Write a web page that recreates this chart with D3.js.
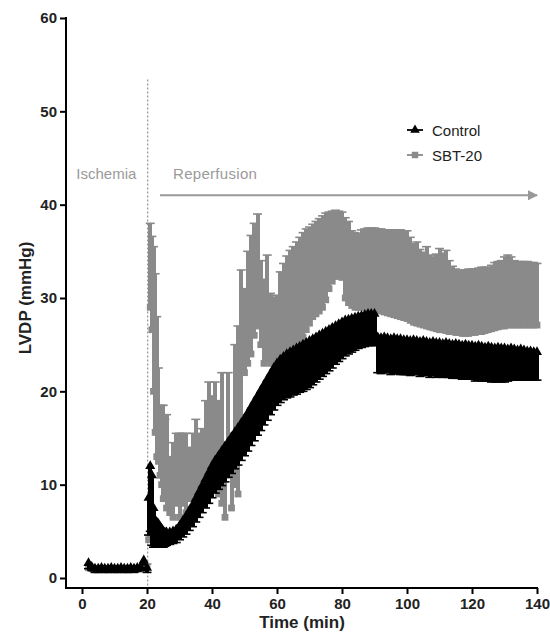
<!DOCTYPE html>
<html>
<head>
<meta charset="utf-8">
<script src="https://cdn.jsdelivr.net/npm/d3@7"></script>
<style>
  body { margin: 0; background: #fff; }
  text { font-family: Arial, "Liberation Sans", sans-serif; }
</style>
</head>
<body>
<div id="chart"></div>
<script>
// time points (min)
const time = [
  2, 3, 4, 5, 6, 7, 8, 9, 10, 11, 12, 13, 14, 15, 16, 17, 18, 19, 20,
  20.5, 21, 21.5, 22, 22.5, 23, 23.5, 24, 24.5, 25, 25.5, 26,
  27, 28, 29, 30,
  31, 32, 33, 34, 35, 36, 37, 38, 39, 40,
  41, 42, 43, 44, 45, 46, 47, 48, 49, 50,
  51, 52, 53, 54, 55, 56, 57, 58, 59, 60,
  61, 62, 63, 64, 65, 66, 67, 68, 69, 70,
  71, 72, 73, 74, 75, 76, 77, 78, 79, 80,
  81, 82, 83, 84, 85, 86, 87, 88, 89, 90,
  91, 92, 93, 94, 95, 96, 97, 98, 99, 100,
  101, 102, 103, 104, 105, 106, 107, 108, 109, 110,
  111, 112, 113, 114, 115, 116, 117, 118, 119, 120,
  121, 122, 123, 124, 125, 126, 127, 128, 129, 130,
  131, 132, 133, 134, 135, 136, 137, 138, 139, 140
];

// Control: mean LVDP and SEM (bars drawn below)
const controlMean = [
  1.6, 1.2, 1.0, 1.0, 1.1, 1.0, 1.0, 1.1, 1.0, 1.0, 1.1, 1.0, 1.0, 1.1, 1.0, 1.1, 1.2, 1.9, 1.1,
  8.6, 12.0, 11.0, 7.5, 6.2, 6.0, 5.8, 5.5, 5.3, 5.0, 4.9, 4.9,
  4.9, 5.0, 5.2, 5.6,
  6.1, 6.6, 7.2, 7.8, 8.5, 9.2, 9.9, 10.6, 11.3, 12.0,
  12.6, 13.1, 13.6, 14.1, 14.6, 15.1, 15.6, 16.1, 16.6, 17.1,
  17.7, 18.3, 18.9, 19.5, 20.1, 20.7, 21.3, 21.9, 22.5, 23.0,
  23.4, 23.7, 24.0, 24.2, 24.4, 24.6, 24.8, 25.0, 25.2, 25.4,
  25.6, 25.8, 26.0, 26.2, 26.4, 26.6, 26.8, 27.0, 27.2, 27.4,
  27.6, 27.7, 27.8, 27.9, 28.0, 28.1, 28.2, 28.3, 28.3, 28.3,
  25.8, 25.7, 25.8, 25.7, 25.6, 25.7, 25.6, 25.6, 25.5, 25.5,
  25.4, 25.5, 25.4, 25.3, 25.4, 25.3, 25.2, 25.3, 25.2, 25.2,
  25.1, 25.2, 25.1, 25.0, 25.1, 25.0, 24.9, 25.0, 24.9, 24.9,
  24.8, 24.9, 24.8, 24.7, 24.8, 24.7, 24.6, 24.7, 24.6, 24.6,
  24.5, 24.6, 24.5, 24.4, 24.5, 24.4, 24.3, 24.3, 24.2, 24.2
];
const controlSem = [
  0.6, 0.4, 0.4, 0.4, 0.4, 0.4, 0.4, 0.4, 0.4, 0.4, 0.4, 0.4, 0.4, 0.4, 0.4, 0.4, 0.4, 0.5, 0.5,
  4.0, 7.0, 7.5, 4.2, 2.8, 2.7, 2.5, 2.2, 2.0, 1.7, 1.5, 1.4,
  1.3, 1.3, 1.4, 1.5,
  1.7, 1.9, 2.1, 2.3, 2.5, 2.7, 2.9, 3.1, 3.3, 3.4,
  3.5, 3.6, 3.7, 3.8, 3.8, 3.9, 3.9, 4.0, 4.0, 4.0,
  4.1, 4.1, 4.2, 4.2, 4.3, 4.3, 4.4, 4.4, 4.5, 4.5,
  4.6, 4.6, 4.7, 4.8, 4.8, 4.9, 4.9, 5.0, 5.0, 5.0,
  4.9, 4.8, 4.7, 4.6, 4.5, 4.4, 4.3, 4.1, 4.0, 3.9,
  3.8, 3.7, 3.6, 3.5, 3.4, 3.4, 3.4, 3.4, 3.4, 3.4,
  3.8, 3.8, 3.8, 3.7, 3.8, 3.8, 3.7, 3.8, 3.7, 3.7,
  3.7, 3.7, 3.6, 3.7, 3.7, 3.6, 3.7, 3.6, 3.7, 3.6,
  3.6, 3.7, 3.6, 3.6, 3.7, 3.6, 3.6, 3.6, 3.6, 3.6,
  3.7, 3.7, 3.7, 3.6, 3.7, 3.7, 3.6, 3.7, 3.6, 3.6,
  3.4, 3.3, 3.3, 3.2, 3.3, 3.2, 3.1, 3.1, 3.0, 3.0
];

// SBT-20: mean LVDP and SEM (bars drawn above)
const sbtMean = [
  1.1, 1.0, 0.9, 1.0, 1.0, 0.9, 1.0, 1.0, 0.9, 1.0, 1.0, 0.9, 1.0, 1.0, 0.9, 1.0, 1.0, 1.1, 1.2,
  4.1, 29.0, 26.6, 20.0, 15.6, 13.0, 12.5, 11.0, 10.0, 8.5, 9.0, 7.5,
  7.0, 6.5, 8.0, 6.5,
  8.0, 7.0, 8.5, 7.5, 9.0, 8.0, 9.5, 10.0, 11.0, 10.0,
  12.0, 9.0, 8.0, 6.5, 11.0, 7.5, 10.0, 9.0, 16.0, 22.0,
  23.0, 24.0, 26.0, 27.0, 25.0, 23.0, 23.5, 23.0, 23.0, 23.5,
  24.0, 24.0, 24.5, 24.5, 25.0, 25.2, 25.6, 25.8, 26.6, 27.3,
  28.0, 28.3, 28.6, 29.0, 29.8, 31.0, 31.8, 32.3, 32.4, 32.2,
  30.0, 29.5, 29.2, 29.0, 29.0, 29.0, 29.0, 29.0, 28.9, 28.9,
  28.7, 28.6, 28.5, 28.4, 28.3, 28.2, 28.1, 28.0, 27.9, 27.8,
  27.6, 27.4, 27.3, 27.2, 27.1, 27.0, 26.9, 26.8, 26.7, 26.6,
  26.6, 26.5, 26.4, 26.4, 26.3, 26.3, 26.2, 26.2, 26.2, 26.3,
  26.3, 26.4, 26.4, 26.5, 26.6, 26.7, 26.8, 26.9, 27.0, 27.0,
  27.1, 27.1, 27.1, 27.1, 27.1, 27.1, 27.1, 27.1, 27.1, 27.1
];
const sbtSem = [
  0.3, 0.3, 0.3, 0.3, 0.3, 0.3, 0.3, 0.3, 0.3, 0.3, 0.3, 0.3, 0.3, 0.3, 0.3, 0.3, 0.3, 0.3, 0.3,
  0.5, 9.0, 10.0, 15.5, 17.0, 15.0, 10.0, 7.5, 8.5, 10.0, 8.0, 10.0,
  6.0, 8.0, 7.5, 9.0,
  7.5, 8.5, 5.5, 8.0, 8.0, 7.5, 6.5, 9.0, 10.0, 9.5,
  9.0, 10.0, 14.0, 6.0, 11.0, 8.0, 15.0, 18.0, 17.0, 9.0,
  12.0, 12.7, 12.0, 12.0, 9.0, 9.0, 11.1, 7.5, 7.1, 6.8,
  8.8, 9.7, 10.0, 10.6, 10.5, 10.8, 10.9, 11.2, 10.8, 10.3,
  9.9, 9.9, 9.9, 9.8, 9.3, 8.2, 7.5, 7.1, 6.9, 7.0,
  8.6, 8.7, 8.0, 8.0, 7.9, 8.3, 8.4, 8.5, 8.6, 8.6,
  8.7, 8.8, 8.8, 8.9, 9.0, 9.1, 9.2, 9.3, 9.2, 9.4,
  8.9, 8.4, 8.7, 8.0, 7.8, 8.5, 7.7, 7.6, 8.0, 8.7,
  8.2, 8.6, 7.6, 7.0, 6.8, 6.6, 6.8, 6.8, 6.9, 6.8,
  6.8, 6.8, 6.9, 6.8, 6.7, 6.8, 7.0, 7.0, 7.0, 7.4,
  7.5, 7.3, 6.9, 6.8, 6.8, 6.8, 6.8, 6.7, 6.7, 6.6
];

const xTicks = [0, 20, 40, 60, 80, 100, 120, 140];
const yTicks = [0, 10, 20, 30, 40, 50, 60];
const seriesNames = ["Control", "SBT-20"];
const ischemiaEnd = 20.2;

const width = 550, height = 637;
const grey = "#8a8a8a", textGrey = "#9a9a9a";

const svg = d3.select("#chart").append("svg")
    .attr("width", width)
    .attr("height", height);

// scales
const x = d3.scaleLinear().domain([0, 140]).range([82, 537]);
const y = d3.scaleLinear().domain([0, 60]).range([578, 18]);
const axisX = 66, axisY = 588;

// build rows
const control = time.map((t, i) => ({t: t, m: controlMean[i], e: controlSem[i]}));
const sbt = time.map((t, i) => ({t: t, m: sbtMean[i], e: sbtSem[i]}));

// ischemia/reperfusion separator
svg.append("line")
    .attr("x1", x(ischemiaEnd)).attr("x2", x(ischemiaEnd))
    .attr("y1", y(53.4)).attr("y2", axisY)
    .attr("stroke", "#999").attr("stroke-width", 1.3)
    .attr("stroke-dasharray", "2,2");

svg.append("text")
    .attr("x", x(7.5)).attr("y", y(42.8))
    .attr("text-anchor", "middle")
    .attr("font-size", 15).attr("fill", textGrey)
    .text("Ischemia");

svg.append("text")
    .attr("x", x(28)).attr("y", y(42.8))
    .attr("font-size", 15).attr("fill", textGrey)
    .attr("letter-spacing", 0.3)
    .text("Reperfusion");

// arrow
svg.append("defs").append("marker")
    .attr("id", "arrow")
    .attr("viewBox", "0 0 10 10")
    .attr("refX", 9).attr("refY", 5)
    .attr("markerWidth", 5).attr("markerHeight", 5)
    .attr("markerUnits", "strokeWidth")
    .attr("orient", "auto")
    .append("path")
    .attr("d", "M0,0 L10,5 L0,10 Z")
    .attr("fill", "#999");

svg.append("line")
    .attr("x1", x(24)).attr("x2", x(140))
    .attr("y1", y(41)).attr("y2", y(41))
    .attr("stroke", "#999").attr("stroke-width", 2)
    .attr("marker-end", "url(#arrow)");

// draw one series with one-sided error bars
function drawSeries(data, color, symbol, size, dir) {
    const g = svg.append("g");
    const cap = 4.5;
    g.selectAll(".stem").data(data).enter().append("line")
        .attr("x1", d => x(d.t)).attr("x2", d => x(d.t))
        .attr("y1", d => y(d.m))
        .attr("y2", d => y(d.m + dir * d.e))
        .attr("stroke", color).attr("stroke-width", 4)
        .attr("shape-rendering", "crispEdges");
    g.selectAll(".cap").data(data).enter().append("line")
        .attr("x1", d => x(d.t) - cap).attr("x2", d => x(d.t) + cap)
        .attr("y1", d => y(d.m + dir * d.e))
        .attr("y2", d => y(d.m + dir * d.e))
        .attr("stroke", color).attr("stroke-width", 1.6);
    g.selectAll(".pt").data(data).enter().append("path")
        .attr("d", d3.symbol().type(symbol).size(size))
        .attr("transform", d => "translate(" + x(d.t) + "," + y(d.m) + ")")
        .attr("fill", color);
}

drawSeries(sbt, grey, d3.symbolSquare, 46, 1);
drawSeries(control, "#000", d3.symbolTriangle, 44, -1);

// axes
const xAxis = d3.axisBottom(x).tickValues(xTicks).tickSize(6).tickSizeOuter(0).tickPadding(4);
const yAxis = d3.axisLeft(y).tickValues(yTicks).tickSize(6).tickSizeOuter(0).tickPadding(3);

const gx = svg.append("g").attr("transform", "translate(0," + axisY + ")").call(xAxis);
const gy = svg.append("g").attr("transform", "translate(" + axisX + ",0)").call(yAxis);

[gx, gy].forEach(g => {
    g.select(".domain").remove();
    g.selectAll(".tick line").attr("stroke", "#000").attr("stroke-width", 2);
    g.selectAll(".tick text")
        .attr("font-family", "Arial, 'Liberation Sans', sans-serif")
        .attr("font-size", 15).attr("font-weight", "bold").attr("fill", "#222");
});

svg.append("line")
    .attr("x1", axisX).attr("x2", x(140) + 1)
    .attr("y1", axisY).attr("y2", axisY)
    .attr("stroke", "#000").attr("stroke-width", 2);
svg.append("line")
    .attr("x1", axisX).attr("x2", axisX)
    .attr("y1", y(60) - 1).attr("y2", axisY + 1)
    .attr("stroke", "#000").attr("stroke-width", 2);

// axis titles
svg.append("text")
    .attr("x", 302).attr("y", 628)
    .attr("text-anchor", "middle")
    .attr("font-size", 17).attr("font-weight", "bold").attr("fill", "#222")
    .text("Time (min)");

svg.append("text")
    .attr("transform", "translate(31," + 298 + ") rotate(-90)")
    .attr("text-anchor", "middle")
    .attr("font-size", 17).attr("font-weight", "bold").attr("fill", "#222")
    .text("LVDP (mmHg)");

// legend
const legend = svg.append("g").attr("transform", "translate(415,130)");
const legendItems = [
    {name: seriesNames[0], color: "#000", symbol: d3.symbolTriangle, size: 40},
    {name: seriesNames[1], color: grey, symbol: d3.symbolSquare, size: 42}
];
legendItems.forEach((it, i) => {
    const row = legend.append("g").attr("transform", "translate(0," + (i * 25) + ")");
    row.append("line").attr("x1", -8).attr("x2", 8)
        .attr("stroke", it.color).attr("stroke-width", 1.8);
    row.append("path").attr("d", d3.symbol().type(it.symbol).size(it.size)()).attr("fill", it.color);
    row.append("text").attr("x", 17).attr("y", 5.5)
        .attr("font-size", 15).attr("fill", "#222")
        .text(it.name);
});
</script>
</body>
</html>
